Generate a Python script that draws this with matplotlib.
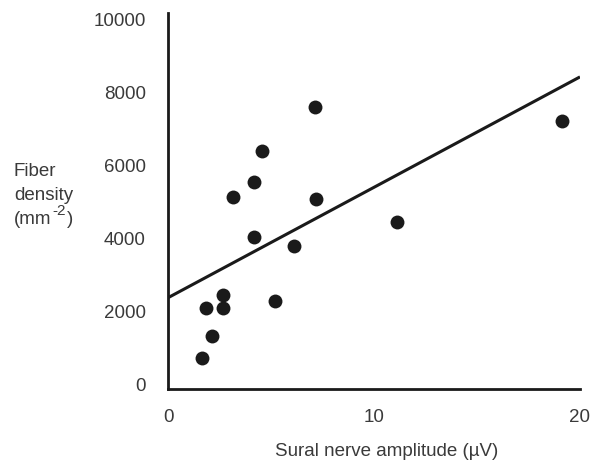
import matplotlib
matplotlib.use("Agg")
import matplotlib.pyplot as plt
import numpy as np

# Data
amplitude = [1.65, 2.14, 1.85, 2.68, 2.68, 5.21, 3.16, 4.18, 4.18, 4.57, 6.13, 7.15, 7.20, 11.14, 19.12]
density = [740, 1340, 2110, 2470, 2110, 2300, 5150, 4055, 5560, 6410, 3810, 7615, 5095, 4465, 7235]
fit_x = [0, 20]
fit_y = [2390, 8440]
x_ticks = [0, 10, 20]
y_ticks = [0, 2000, 4000, 6000, 8000, 10000]

plt.rcParams['font.family'] = ['Liberation Sans', 'DejaVu Sans']
txt_color = '#3a3a3a'
fs = 13.5

fig = plt.figure(figsize=(5.98, 4.66), dpi=100)
W, H = 598, 466
left, right, top, bottom = 168, 580, 13, 389
ax = fig.add_axes([left / W, 1 - bottom / H, (right - left) / W, (bottom - top) / H])

ax.plot(fit_x, fit_y, color='#1a1a1a', lw=2.2, solid_capstyle='butt', zorder=2)
ax.plot(amplitude, density, 'o', color='#1a1a1a', markersize=10, markeredgewidth=0, zorder=3)

ax.set_xlim(0, 20)
ax.set_ylim(-110, 10190)
ax.set_xticks(x_ticks)
ax.set_yticks(y_ticks)
ax.tick_params(length=0, labelsize=fs, labelcolor=txt_color)
ax.tick_params(axis='y', pad=16)
ax.tick_params(axis='x', pad=14.5)
for s in ['top', 'right']:
    ax.spines[s].set_visible(False)
for s in ['left', 'bottom']:
    ax.spines[s].set_linewidth(2)
    ax.spines[s].set_color('#1a1a1a')

fig.text(387 / W, 1 - 452 / H, 'Sural nerve amplitude (µV)', ha='center', va='center',
         fontsize=fs, color=txt_color)
fig.text(14 / W, 1 - 172 / H, 'Fiber', ha='left', va='center', fontsize=fs, color=txt_color)
fig.text(14 / W, 1 - 196 / H, 'density', ha='left', va='center', fontsize=fs, color=txt_color)
t1 = fig.text(14 / W, 1 - 219 / H, '(mm', ha='left', va='center', fontsize=fs, color=txt_color)
fig.canvas.draw()
r = fig.canvas.get_renderer()
bb = t1.get_window_extent(r)
x_sup = bb.x1 + 1
t2 = fig.text(x_sup / W, 1 - 211 / H, '-2', ha='left', va='center', fontsize=11, color=txt_color)
bb2 = t2.get_window_extent(r)
fig.text((bb2.x1 + 1) / W, 1 - 219 / H, ')', ha='left', va='center', fontsize=fs, color=txt_color)

fig.savefig('out.png', dpi=100)
